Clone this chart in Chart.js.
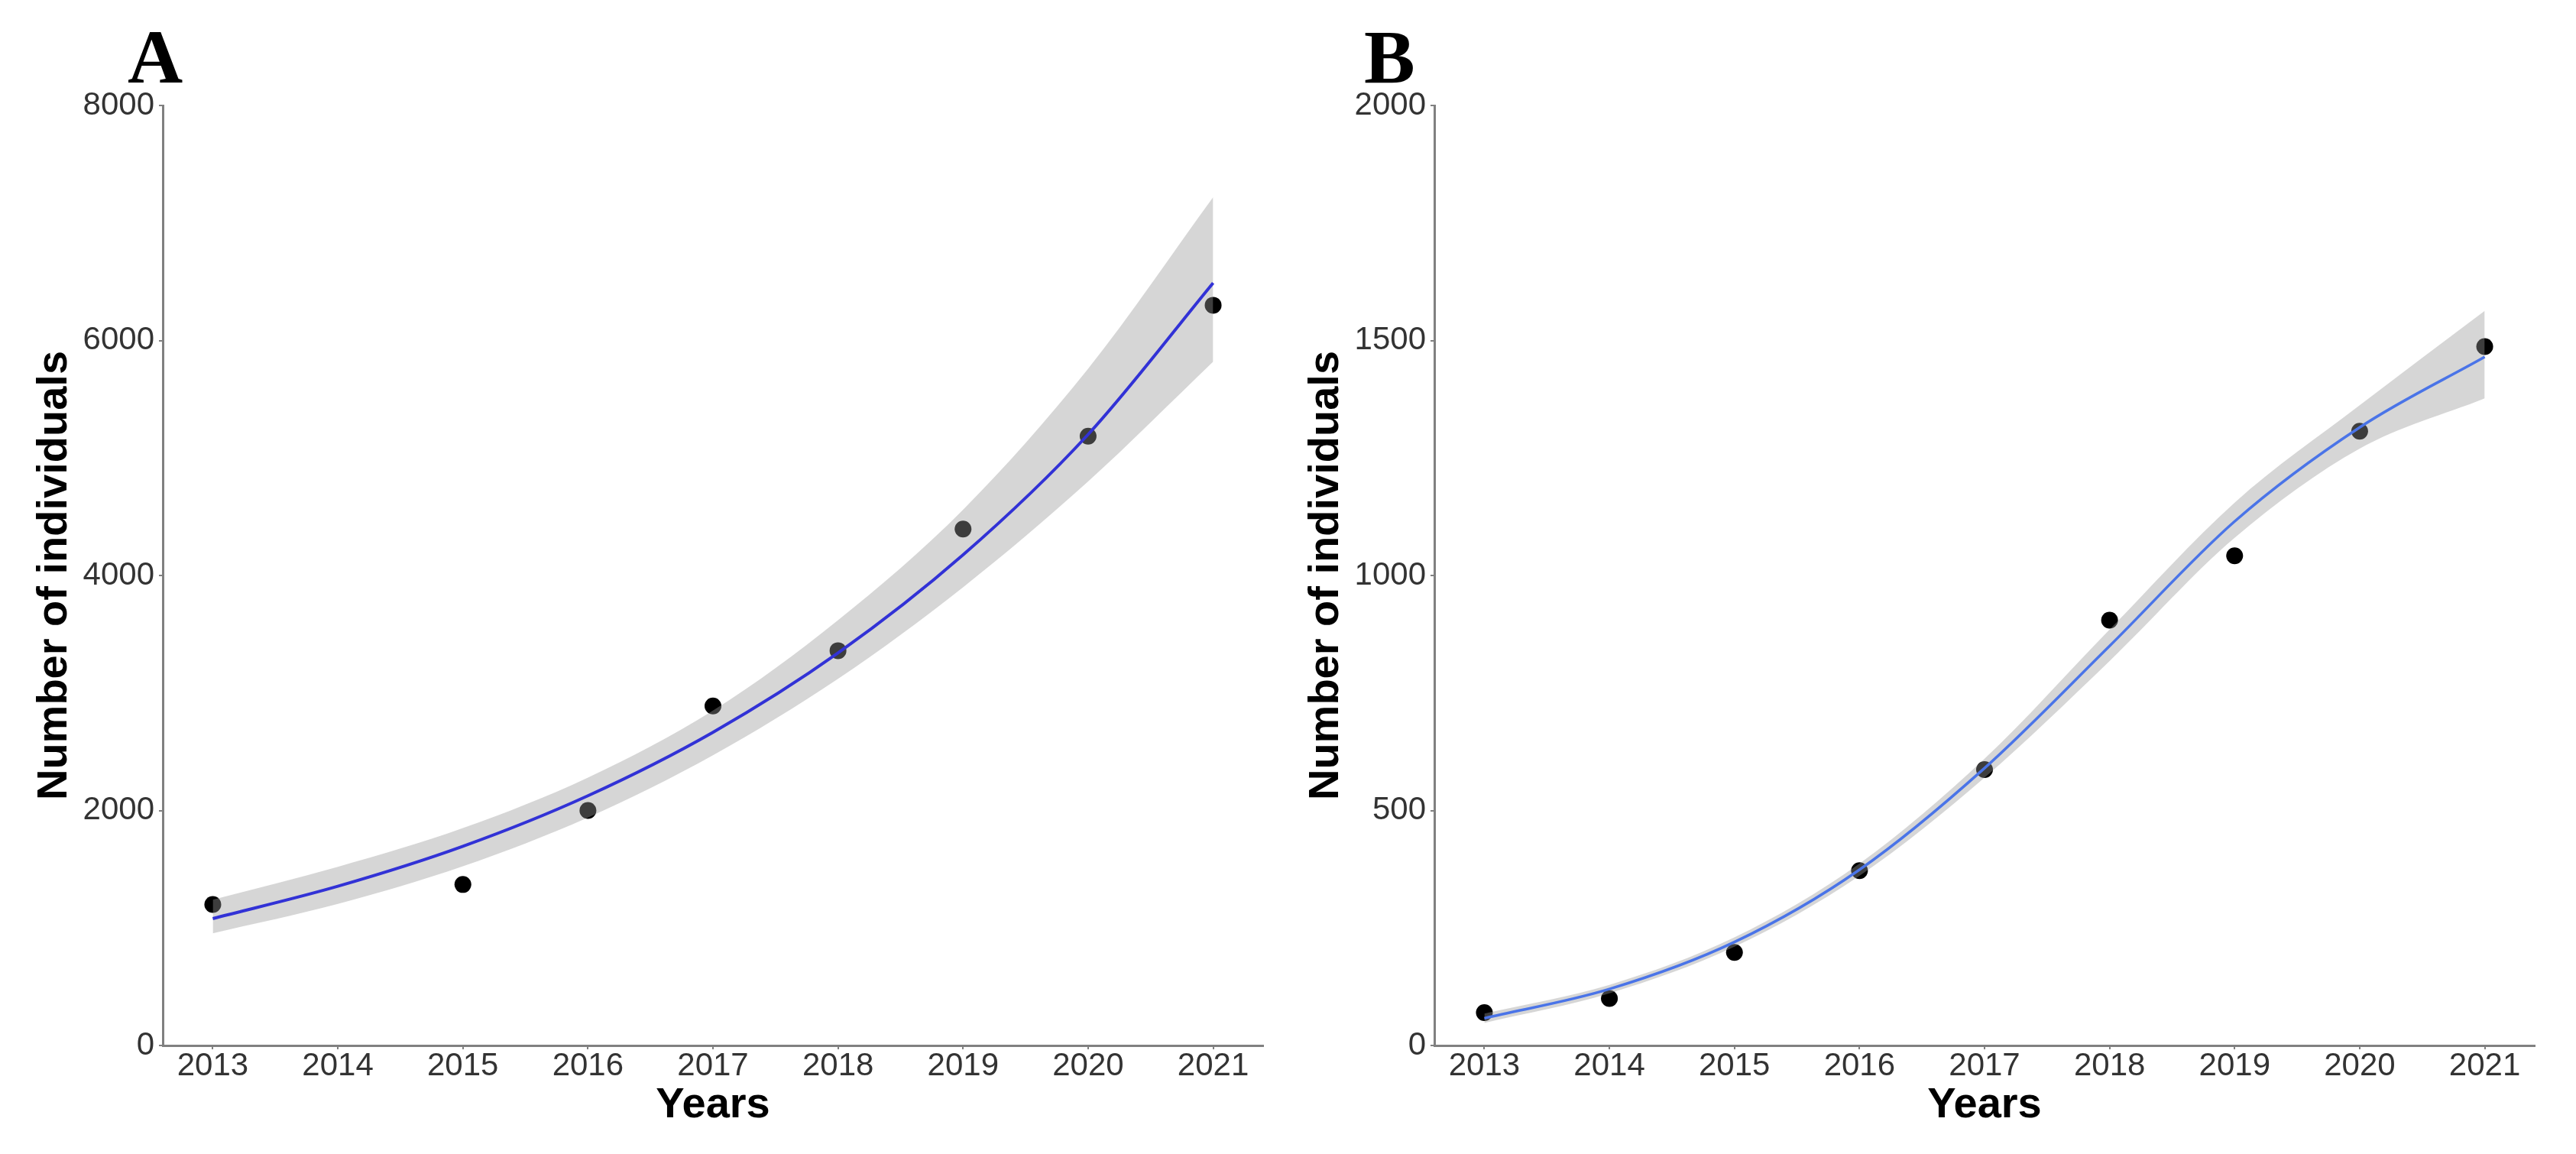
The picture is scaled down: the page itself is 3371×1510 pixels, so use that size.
<!DOCTYPE html>
<html lang="en">
<head>
<meta charset="UTF-8">
<title>Number of individuals by year</title>
<script src="https://cdn.jsdelivr.net/npm/chart.js"></script>
<style>
    body {
        margin: 0;
        width: 3371px;
        height: 1510px;
        overflow: hidden;
        background: #fff;
        position: relative;
    }
    canvas {
        position: absolute;
        top: 0;
    }
    #chartA { left: 0; }
    #chartB { left: 1664px; }
    .panel {
        position: absolute;
        top: 25px;
        font-family: "Liberation Serif", "Times New Roman", serif;
        font-weight: bold;
        font-size: 100px;
        line-height: 1;
        color: #000;
    }
</style>
</head>
<body>

<div class="panel" style="left:167px">A</div>
<div class="panel" style="left:1785px">B</div>
<canvas id="chartA" width="1664" height="1510"></canvas>
<canvas id="chartB" width="1664" height="1510"></canvas>

<script>
    // years on the x axis
    const years = [2013, 2014, 2015, 2016, 2017, 2018, 2019, 2020, 2021];

    // panel A
    const obsYearsA = [2013, 2015, 2016, 2017, 2018, 2019, 2020, 2021];
    const obsA = [1200, 1370, 2000, 2890, 3360, 4395, 5185, 6300];
    const fitA = [1080, 1355, 1695, 2125, 2665, 3340, 4175, 5200, 6490];
    const upperA = [1240, 1520, 1850, 2280, 2850, 3620, 4560, 5760, 7220];
    const lowerA = [955, 1205, 1525, 1940, 2470, 3120, 3900, 4800, 5820];
    const yTicksA = [0, 2000, 4000, 6000, 8000];

    // panel B
    const obsYearsB = [2013, 2014, 2015, 2016, 2017, 2018, 2019, 2020, 2021];
    const obsB = [70, 100, 198, 372, 587, 905, 1042, 1307, 1487];
    const fitB = [58, 120, 220, 374, 590, 850, 1115, 1315, 1465];
    const upperB = [68, 129, 230, 387, 610, 885, 1155, 1362, 1563];
    const lowerB = [48, 111, 210, 361, 570, 818, 1080, 1270, 1377];
    const yTicksB = [0, 500, 1000, 1500, 2000];

    const axisGrey = "#808080";
    const tickFont = { family: "'Liberation Sans', Arial, sans-serif", size: 42, lineHeight: 1 };
    const titleFont = { family: "'Liberation Sans', Arial, sans-serif", size: 56, weight: "bold", lineHeight: 1 };

    function pairs(xs, ys) {
        return xs.map((x, i) => ({ x: x, y: ys[i] }));
    }

    function buildChart(id, obsYears, obs, fit, upper, lower, yTicks, lineColor, lineWidth) {
        const ctx = document.getElementById(id).getContext("2d");
        return new Chart(ctx, {
            type: "line",
            data: {
                datasets: [
                    {
                        label: "lower",
                        data: pairs(years, lower),
                        borderColor: "rgba(0,0,0,0)",
                        borderWidth: 0,
                        pointRadius: 0,
                        fill: false,
                        cubicInterpolationMode: "monotone",
                        order: 3
                    },
                    {
                        label: "upper",
                        data: pairs(years, upper),
                        borderColor: "rgba(0,0,0,0)",
                        borderWidth: 0,
                        pointRadius: 0,
                        fill: 0,
                        backgroundColor: "rgba(153,153,153,0.4)",
                        cubicInterpolationMode: "monotone",
                        order: 2
                    },
                    {
                        label: "fit",
                        data: pairs(years, fit),
                        borderColor: lineColor,
                        borderWidth: lineWidth,
                        pointRadius: 0,
                        fill: false,
                        cubicInterpolationMode: "monotone",
                        order: 1
                    },
                    {
                        label: "observed",
                        data: pairs(obsYears, obs),
                        showLine: false,
                        pointRadius: 11,
                        pointBackgroundColor: "#000",
                        pointBorderWidth: 0,
                        order: 4
                    }
                ]
            },
            options: {
                responsive: false,
                animation: false,
                layout: { padding: { top: 138, right: 8, bottom: 0, left: 0 } },
                plugins: {
                    legend: { display: false },
                    tooltip: { enabled: false }
                },
                scales: {
                    x: {
                        type: "linear",
                        min: 2012.6,
                        max: 2021.4,
                        afterBuildTicks: (s) => { s.ticks = years.map(v => ({ value: v })); },
                        afterFit: (s) => { s.height = 142; },
                        ticks: {
                            callback: (v) => String(v),
                            font: tickFont,
                            color: "#333",
                            padding: 1,
                            maxRotation: 0,
                            autoSkip: false
                        },
                        grid: {
                            display: true,
                            drawOnChartArea: false,
                            drawTicks: true,
                            tickLength: 5,
                            color: axisGrey,
                            lineWidth: 2
                        },
                        border: { display: true, color: axisGrey, width: 3 },
                        title: {
                            display: true,
                            text: "Years",
                            font: titleFont,
                            color: "#000",
                            padding: { top: 0, bottom: 35 }
                        }
                    },
                    y: {
                        type: "linear",
                        min: yTicks[0],
                        max: yTicks[yTicks.length - 1],
                        afterBuildTicks: (s) => { s.ticks = yTicks.map(v => ({ value: v })); },
                        afterFit: (s) => { s.width = 213; },
                        ticks: {
                            callback: (v) => String(v),
                            font: tickFont,
                            color: "#333",
                            padding: 6
                        },
                        grid: {
                            display: true,
                            drawOnChartArea: false,
                            drawTicks: true,
                            tickLength: 5,
                            color: axisGrey,
                            lineWidth: 2
                        },
                        border: { display: true, color: axisGrey, width: 3 },
                        title: {
                            display: true,
                            text: "Number of individuals",
                            font: titleFont,
                            color: "#000",
                            padding: { top: 44, bottom: 0 }
                        }
                    }
                }
            }
        });
    }

    buildChart("chartA", obsYearsA, obsA, fitA, upperA, lowerA, yTicksA, "#3232d6", 4);
    buildChart("chartB", obsYearsB, obsB, fitB, upperB, lowerB, yTicksB, "#4a74e8", 3.5);
</script>

</body>
</html>
